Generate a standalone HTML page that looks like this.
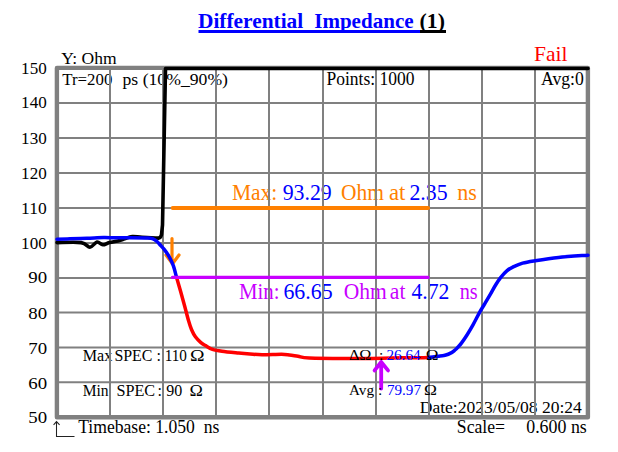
<!DOCTYPE html>
<html><head><meta charset="utf-8"><style>
html,body{margin:0;padding:0;background:#fff;width:618px;height:452px;overflow:hidden;position:relative}
</style></head><body>
<svg width="618" height="452" viewBox="0 0 618 452" font-family="Liberation Serif" style="position:absolute;left:0;top:0">
<g><text x="198.00" y="28" font-size="21" fill="#0000ff" font-weight="bold" textLength="105.25" lengthAdjust="spacingAndGlyphs">Differential</text><text x="314.20" y="28" font-size="21" fill="#0000ff" font-weight="bold" textLength="99.38" lengthAdjust="spacingAndGlyphs">Impedance</text><text x="419.60" y="28" font-size="21" fill="#000" font-weight="bold" textLength="25.36" lengthAdjust="spacingAndGlyphs">(1)</text><text x="534.00" y="61" font-size="22" fill="#ff0000" textLength="33.6" lengthAdjust="spacingAndGlyphs">Fail</text><text x="61.20" y="64" font-size="17" fill="#000" textLength="55.36" lengthAdjust="spacingAndGlyphs">Y: Ohm</text><text x="62.30" y="85" font-size="17.5" fill="#000" textLength="50.0" lengthAdjust="spacingAndGlyphs">Tr=200</text><text x="122.50" y="85" font-size="17.5" fill="#000" textLength="105.51" lengthAdjust="spacingAndGlyphs">ps (10%_90%)</text><text x="326.50" y="85" font-size="18" fill="#000" textLength="88.09" lengthAdjust="spacingAndGlyphs">Points: 1000</text><text x="541.00" y="85" font-size="18" fill="#000" textLength="42.85" lengthAdjust="spacingAndGlyphs">Avg:0</text><text x="231.90" y="200" font-size="23" fill="#ff8000" textLength="45.4" lengthAdjust="spacingAndGlyphs">Max:</text><text x="282.70" y="200" font-size="23" fill="#0000ff" textLength="49.06" lengthAdjust="spacingAndGlyphs">93.29</text><text x="341.10" y="200" font-size="23" fill="#ff8000" textLength="42.88" lengthAdjust="spacingAndGlyphs">Ohm</text><text x="389.00" y="200" font-size="23" fill="#ff8000" textLength="16.41" lengthAdjust="spacingAndGlyphs">at</text><text x="409.40" y="200" font-size="23" fill="#0000ff" textLength="38.13" lengthAdjust="spacingAndGlyphs">2.35</text><text x="457.20" y="200" font-size="23" fill="#ff8000" textLength="19.61" lengthAdjust="spacingAndGlyphs">ns</text><text x="238.90" y="299" font-size="22.5" fill="#c800ff" textLength="40.56" lengthAdjust="spacingAndGlyphs">Min:</text><text x="283.40" y="299" font-size="22.5" fill="#0000ff" textLength="49.19" lengthAdjust="spacingAndGlyphs">66.65</text><text x="343.70" y="299" font-size="22.5" fill="#c800ff" textLength="43.12" lengthAdjust="spacingAndGlyphs">Ohm</text><text x="389.80" y="299" font-size="22.5" fill="#c800ff" textLength="15.63" lengthAdjust="spacingAndGlyphs">at</text><text x="411.50" y="299" font-size="22.5" fill="#0000ff" textLength="37.93" lengthAdjust="spacingAndGlyphs">4.72</text><text x="459.70" y="299" font-size="22.5" fill="#c800ff" textLength="18.04" lengthAdjust="spacingAndGlyphs">ns</text><text x="82.70" y="361" font-size="16" fill="#000" textLength="29.55" lengthAdjust="spacingAndGlyphs">Max</text><text x="114.40" y="361" font-size="16" fill="#000" textLength="38.05" lengthAdjust="spacingAndGlyphs">SPEC</text><text x="156.50" y="361" font-size="16" fill="#000">:</text><text x="164.70" y="361" font-size="16" fill="#000" textLength="22.29" lengthAdjust="spacingAndGlyphs">110</text><text x="190.00" y="361" font-size="16" fill="#000" textLength="14.54" lengthAdjust="spacingAndGlyphs">Ω</text><text x="82.70" y="396" font-size="16" fill="#000" textLength="25.84" lengthAdjust="spacingAndGlyphs">Min</text><text x="116.40" y="396" font-size="16" fill="#000" textLength="38.69" lengthAdjust="spacingAndGlyphs">SPEC</text><text x="157.50" y="396" font-size="16" fill="#000">:</text><text x="166.20" y="396" font-size="16" fill="#000" textLength="16.0" lengthAdjust="spacingAndGlyphs">90</text><text x="189.60" y="396" font-size="16" fill="#000" textLength="13.34" lengthAdjust="spacingAndGlyphs">Ω</text><text x="419.80" y="413" font-size="17.5" fill="#000" textLength="162.06" lengthAdjust="spacingAndGlyphs">Date:2023/05/08 20:24</text><text x="78.20" y="433" font-size="18" fill="#000" textLength="141.14" lengthAdjust="spacingAndGlyphs">Timebase: 1.050 &#160;ns</text><text x="456.80" y="432.5" font-size="18" fill="#000" textLength="48.31" lengthAdjust="spacingAndGlyphs">Scale=</text><text x="526.20" y="432.5" font-size="18" fill="#000" textLength="60.62" lengthAdjust="spacingAndGlyphs">0.600 ns</text><text x="21.10" y="74" font-size="17.5" textLength="25.6" lengthAdjust="spacingAndGlyphs">150</text><text x="21.10" y="108" font-size="17.5" textLength="25.6" lengthAdjust="spacingAndGlyphs">140</text><text x="21.10" y="144" font-size="17.5" textLength="25.6" lengthAdjust="spacingAndGlyphs">130</text><text x="21.10" y="179" font-size="17.5" textLength="25.6" lengthAdjust="spacingAndGlyphs">120</text><text x="21.10" y="214" font-size="17.5" textLength="25.6" lengthAdjust="spacingAndGlyphs">110</text><text x="21.10" y="249" font-size="17.5" textLength="25.6" lengthAdjust="spacingAndGlyphs">100</text><text x="28.30" y="283" font-size="17.5" textLength="18.83" lengthAdjust="spacingAndGlyphs">90</text><text x="28.30" y="319" font-size="17.5" textLength="18.83" lengthAdjust="spacingAndGlyphs">80</text><text x="28.30" y="354" font-size="17.5" textLength="18.83" lengthAdjust="spacingAndGlyphs">70</text><text x="28.30" y="389" font-size="17.5" textLength="18.83" lengthAdjust="spacingAndGlyphs">60</text><text x="28.30" y="423" font-size="17.5" textLength="18.83" lengthAdjust="spacingAndGlyphs">50</text></g>
<rect x="198.5" y="30" width="221.5" height="3" fill="#0000ff"/>
<rect x="420" y="30" width="26" height="3" fill="#000"/>
<g stroke="#808080" stroke-width="2"><line x1="110" y1="68" x2="110" y2="417"/><line x1="163" y1="68" x2="163" y2="417"/><line x1="216" y1="68" x2="216" y2="417"/><line x1="269" y1="68" x2="269" y2="417"/><line x1="323" y1="68" x2="323" y2="417"/><line x1="376" y1="68" x2="376" y2="417"/><line x1="429" y1="68" x2="429" y2="417"/><line x1="482" y1="68" x2="482" y2="417"/><line x1="535" y1="68" x2="535" y2="417"/><line x1="57" y1="103" x2="588" y2="103"/><line x1="57" y1="138" x2="588" y2="138"/><line x1="57" y1="173" x2="588" y2="173"/><line x1="57" y1="208" x2="588" y2="208"/><line x1="57" y1="243" x2="588" y2="243"/><line x1="57" y1="278" x2="588" y2="278"/><line x1="57" y1="312.6" x2="588" y2="312.6"/><line x1="57" y1="347.4" x2="588" y2="347.4"/><line x1="57" y1="382.2" x2="588" y2="382.2"/></g>
<path d="M56.9,67.9 L587.9,67.9 L587.9,417.3 L56.9,417.3 Z" fill="none" stroke="#808080" stroke-width="4.4" stroke-linejoin="round"/>
<g fill="none" stroke-linecap="round" stroke-linejoin="round">
<path d="M172.7,208 L428,208" stroke="#ff8000" stroke-width="4"/>
<path d="M172,238.5 L172,263.5 M166,255 L172.5,263.8 L179,255" stroke="#ff8000" stroke-width="3.2"/>
<path d="M57.00,242.60 C61.03,242.60 75.72,241.83 81.20,242.60 C86.68,243.37 87.27,247.30 89.90,247.20 C92.53,247.10 94.85,242.40 97.00,242.00 C99.15,241.60 100.73,244.70 102.80,244.80 C104.87,244.90 106.58,243.32 109.40,242.60 C112.22,241.88 117.17,241.13 119.70,240.50 C122.23,239.87 122.50,239.47 124.60,238.80 C126.70,238.13 129.40,236.75 132.30,236.50 C135.20,236.25 137.63,237.03 142.00,237.30 C146.37,237.57 155.75,237.97 158.50,238.10 Q160.5,238 161.5,234.7 L162.5,225 L165.5,68.5 L588,68.5" stroke="#000" stroke-width="3.6"/>
<path d="M57.00,239.20 C59.17,239.13 65.00,238.95 70.00,238.80 C75.00,238.65 81.42,238.50 87.00,238.30 C92.58,238.10 98.83,237.68 103.50,237.60 C108.17,237.52 110.68,237.78 115.00,237.80 C119.32,237.82 123.90,237.67 129.40,237.70 C134.90,237.73 144.07,237.82 148.00,238.00 C151.93,238.18 151.50,238.22 153.00,238.80 C154.50,239.38 155.83,240.52 157.00,241.50 C158.17,242.48 158.83,243.42 160.00,244.70 C161.17,245.98 162.67,247.52 164.00,249.20 C165.33,250.88 166.83,252.97 168.00,254.80 C169.17,256.63 170.12,258.40 171.00,260.20 C171.88,262.00 172.65,263.80 173.30,265.60 C173.95,267.40 174.35,269.02 174.90,271.00 C175.45,272.98 175.67,274.17 176.60,277.50" stroke="#0000ff" stroke-width="3.5" stroke-linecap="round"/>
<path d="M427.50,357.40 C435.50,357.05 437.08,356.25 440.00,355.90 C442.92,355.55 443.07,355.85 445.00,355.30 C446.93,354.75 449.93,353.48 451.60,352.60 C453.27,351.72 453.88,350.98 455.00,350.00 C456.12,349.02 457.20,347.88 458.30,346.70 C459.40,345.52 460.15,344.85 461.60,342.90 C463.05,340.95 465.10,338.00 467.00,335.00 C468.90,332.00 470.90,328.68 473.00,324.90 C475.10,321.12 477.77,315.62 479.60,312.30 C481.43,308.98 482.27,307.90 484.00,305.00 C485.73,302.10 488.07,298.23 490.00,294.90 C491.93,291.57 493.83,287.88 495.60,285.00 C497.37,282.12 498.68,280.00 500.60,277.60 C502.52,275.20 504.90,272.43 507.10,270.60 C509.30,268.77 511.22,267.85 513.80,266.60 C516.38,265.35 519.28,264.05 522.60,263.10 C525.92,262.15 527.72,261.85 533.70,260.90 C539.68,259.95 549.45,258.35 558.50,257.40 C567.55,256.45 583.08,255.57 588.00,255.20" stroke="#0000ff" stroke-width="3.5" stroke-linecap="round"/>
<path d="M176.60,277.50 C177.53,280.83 179.18,286.33 180.50,291.00 C181.82,295.67 183.17,300.58 184.50,305.50 C185.83,310.42 187.33,316.50 188.50,320.50 C189.67,324.50 190.35,326.78 191.50,329.50 C192.65,332.22 193.83,334.62 195.40,336.80 C196.97,338.98 199.22,341.13 200.90,342.60 C202.58,344.07 203.57,344.48 205.50,345.60 C207.43,346.72 209.75,348.37 212.50,349.30 C215.25,350.23 217.63,350.58 222.00,351.20 C226.37,351.82 234.03,352.53 238.70,353.00 C243.37,353.47 246.12,353.70 250.00,354.00 C253.88,354.30 256.75,354.75 262.00,354.80 C267.25,354.85 276.95,354.28 281.50,354.30 C286.05,354.32 286.55,354.57 289.30,354.90 C292.05,355.23 294.65,355.77 298.00,356.30 C301.35,356.83 300.73,357.73 309.40,358.10 C318.07,358.47 336.23,358.52 350.00,358.50 C363.77,358.48 379.08,358.18 392.00,358.00 C404.92,357.82 419.50,357.75 427.50,357.40" stroke="#ff0000" stroke-width="3.5" stroke-linecap="butt"/>
<path d="M172.4,277.4 L428,277.4" stroke="#c800ff" stroke-width="3.2"/>
<path d="M381.2,388.5 L381.2,362 M374.6,370.4 L381.2,362 L388,370.4" stroke="#c800ff" stroke-width="3.8"/>
</g>
<g><text x="348.90" y="360" font-size="15.5" fill="#000" textLength="22.57" lengthAdjust="spacingAndGlyphs">ΔΩ</text><text x="378.90" y="360" font-size="15.5" fill="#000">:</text><text x="386.40" y="360" font-size="15.5" fill="#0000ff" textLength="34.27" lengthAdjust="spacingAndGlyphs">26.64</text><text x="425.70" y="360" font-size="15.5" fill="#000" textLength="12.74" lengthAdjust="spacingAndGlyphs">Ω</text><text x="348.90" y="395" font-size="15.5" fill="#000" textLength="25.12" lengthAdjust="spacingAndGlyphs">Avg</text><text x="378.10" y="395" font-size="15.5" fill="#000">:</text><text x="386.90" y="395" font-size="15.5" fill="#0000ff" textLength="34.07" lengthAdjust="spacingAndGlyphs">79.97</text><text x="424.10" y="395" font-size="15.5" fill="#000" textLength="12.95" lengthAdjust="spacingAndGlyphs">Ω</text></g>
<path d="M56.5,422 L56.5,436.5 L74.5,436.5 M53.6,424.8 L56.5,421.6 L59.6,424.8" stroke="#222" stroke-width="1.05" fill="none"/>
</svg>
</body></html>
